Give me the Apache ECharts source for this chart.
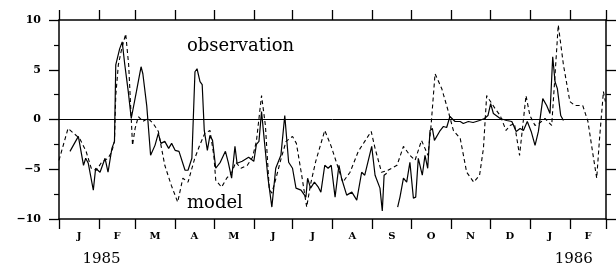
<!DOCTYPE html>
<html>
<head>
<meta charset="utf-8">
<script src="https://cdn.jsdelivr.net/npm/echarts@6/dist/echarts.min.js"></script>
<style>html,body{margin:0;padding:0;background:#fff}#c{width:616px;height:269px}</style>
</head>
<body>
<div id="c"></div>
<script>
// x values are days since 1 Jan 1985
const monthLetters = ['J','F','M','A','M','J','J','A','S','O','N','D','J','F'];
const monthStartDays = [0,31,59,90,120,151,181,212,243,273,304,334,365,396,424];
const yearLabels = ['1985','1986'];
const yearCenterDays = [33,399];
const yTickValues = [-10,-5,0,5,10];

const obsDays = [8.5,15,19,20.7,22.7,26.6,28.4,31.8,35.7,38,41,43,44,47,49,51,53.7,56,60,63.6,65,68,71,74.4,77,79,82,85,87.3,90,93,97.7,100,103,105.4,107,109.3,111,112.6,115,117,119,121.5,125,129,131.2,133.8,136.4,138,142,147,151,153,155,157,159,162,165,168,172,175,178,181,183.7,187.6,191.4,192.7,195,198,201,203,206,208.6,211,214,217,219,223,227,230.8,234.6,237,242.4,245,248.8,250.6,252,254,258,262.5,264.3,267,269.5,272,274.7,276.5,278.5,281.6,283.7,285.8,287.6,289.4,291,295,298,300.5,303,307,311,313.4,317.3,321,326,329.8,332.5,334.6,336.7,342,347,351,354.4,357.4,360,363,366,369,371.6,375,378,380.6,382.7,384.5,386.3,388.9,391];
const obsValues = [-3.2,-1.7,-4.6,-3.9,-4.4,-7.1,-4.9,-5.3,-3.9,-5.3,-2.9,-2.2,5.5,7.1,7.8,5.5,2.8,0.1,2.8,5.3,4.6,1.4,-3.6,-2.6,-1.4,-2.4,-2.2,-2.9,-2.4,-3.1,-3.2,-5.1,-5.1,-3.9,4.8,5.1,3.8,3.5,-1.1,-3.1,-1.6,-2.1,-4.9,-4.3,-3.2,-4.3,-5.9,-2.7,-4.4,-4.2,-3.8,-4.2,-2.5,-2.2,0.8,-1.9,-5.9,-8.8,-4.9,-3.6,0.4,-4.3,-4.9,-6.9,-7.1,-7.8,-5.9,-6.9,-6.3,-6.8,-7.3,-4.6,-4.9,-4.6,-7.8,-4.6,-5.9,-7.6,-7.3,-8.1,-5.3,-5.6,-2.7,-5.6,-6.9,-9.2,-5.6,-5.4,null,-8.8,-7.8,-5.9,-6.3,-4.3,-7.9,-7.8,-3.9,-5.6,-3.6,-4.9,-1.1,-0.9,-2.1,-1.2,-0.7,-0.8,0.3,-0.2,-0.2,-0.4,-0.2,-0.3,-0.1,0.1,0.4,1.6,0.6,0.1,-0.1,-0.2,-1.2,-0.9,-1.1,-0.2,-1.2,-2.6,-1.2,2.1,1.4,0.6,6.3,3.8,3.1,0.4,-0.1];

const modelDays = [0,7,16,21,25,29,33,38,41,43,44,46,48.6,51.7,54,57,59,61.5,65,69,73,77,82,87,92,96,100,105,109,113,117,120,121.5,126,130,134,137,141,146,150,153,157,160,163,165,168,172,176,181,184,188,192,195,199,206,211,220,225.6,232,237,242,245,250,255,262,267,272,276,281,286,288.4,291.5,296.7,301.8,305.7,311,316,321.5,326,329,331.5,338,342,346.5,349.6,353,357,362,365,369,373,376.7,381.9,384,387,391,396,400,406,410,414,416.8,419,422,423.5];
const modelValues = [-4.1,-0.9,-1.9,-3.2,-4.9,-5.1,-4.3,-3.9,-3.2,-2.2,2.4,5.5,7.1,8.6,5.5,-2.6,-0.9,0.3,-0.2,0.1,-0.4,-1.2,-4.6,-6.6,-8.3,-5.9,-6.3,-4.0,-2.6,-1.4,-1.1,-3.6,-6.1,-6.8,-5.9,-5.3,-4.3,-4.9,-4.6,-3.8,-2.2,2.4,-0.6,-7.0,-7.4,-6.0,-4.0,-2.2,-1.7,-2.4,-5.5,-8.8,-6.5,-4.2,-1.1,-2.7,-6.3,-5.3,-3.2,-2.2,-1.2,-2.9,-5.3,-5.1,-4.6,-2.7,-3.6,-4.1,-2.1,-3.6,-0.6,4.6,3.1,0.8,-1.1,-1.9,-5.3,-6.3,-5.6,-2.9,2.4,1.1,0.4,-1.1,-0.6,-0.4,-3.6,2.4,0.4,-0.6,-0.3,0.1,-0.6,3.5,9.5,5.5,1.8,1.4,1.4,-0.2,-3.6,-5.9,-1.9,2.8,1.8];

const monthCenters = monthLetters.map((m,i)=> (monthStartDays[i]+monthStartDays[i+1])/2);
const zip = (xs, ys) => xs.map((x,i)=>[x, ys[i]===null ? '-' : ys[i]]);

const FONT = 'DejaVu Serif';
const axisLine = {show:true, onZero:false, lineStyle:{color:'#000', width:1.5}};

const chart = echarts.init(document.getElementById('c'), null, {renderer:'canvas'});
chart.setOption({
  animation:false,
  backgroundColor:'#fff',
  grid:{left:59, right:10, top:20, bottom:50, containLabel:false},
  xAxis:[
    {type:'value', min:0, max:424, position:'bottom', axisLine:axisLine,
     axisTick:{show:true, length:10, customValues:monthStartDays, lineStyle:{color:'#000', width:1.3}},
     axisLabel:{show:true, customValues:monthCenters, margin:12,
       formatter:v=>{const i=monthCenters.findIndex(c=>Math.abs(c-v)<0.01); return i>=0?monthLetters[i]:'';},
       fontFamily:FONT, fontWeight:'bold', fontSize:10, color:'#000'},
     splitLine:{show:false}},
    {type:'value', min:0, max:424, position:'top', axisLine:axisLine,
     axisTick:{show:true, length:10, customValues:monthStartDays, lineStyle:{color:'#000', width:1.3}},
     axisLabel:{show:false}, splitLine:{show:false}},
    {type:'value', min:0, max:424, position:'bottom', axisLine:{show:false, onZero:false}, axisTick:{show:false},
     axisLabel:{show:true, customValues:yearCenterDays, margin:33,
       formatter:v=>{const i=yearCenterDays.indexOf(v); return i>=0?yearLabels[i]:'';},
       fontFamily:FONT, fontSize:15, color:'#000'},
     splitLine:{show:false}}
  ],
  yAxis:[
    {type:'value', min:-10, max:10, interval:5, position:'left', axisLine:axisLine,
     axisTick:{show:true, length:10, lineStyle:{color:'#000', width:1.3}},
     minorTick:{show:true, splitNumber:2, length:5, lineStyle:{color:'#000', width:1.2}},
     axisLabel:{margin:18, fontFamily:FONT, fontWeight:'bold', fontSize:11, color:'#000',
       formatter:v=> yTickValues.includes(v) ? String(v).replace('-', '\u2212') : ''},
     splitLine:{show:false}},
    {type:'value', min:-10, max:10, interval:5, position:'right', axisLine:axisLine,
     axisTick:{show:true, length:10, lineStyle:{color:'#000', width:1.3}},
     minorTick:{show:true, splitNumber:2, length:5, lineStyle:{color:'#000', width:1.2}},
     axisLabel:{show:false}, splitLine:{show:false}}
  ],
  series:[
    {name:'model', type:'line', xAxisIndex:0, yAxisIndex:0, data:zip(modelDays, modelValues),
     symbol:'none', lineStyle:{color:'#000', width:1.1, type:[4,3]},
     markLine:{silent:true, symbol:'none', label:{show:false},
       lineStyle:{color:'#000', width:1, type:'solid'}, data:[{yAxis:0}]}},
    {name:'observation', type:'line', xAxisIndex:0, yAxisIndex:0, data:zip(obsDays, obsValues),
     symbol:'none', connectNulls:false, lineStyle:{color:'#000', width:1.2, type:'solid'}}
  ],
  graphic:[
    {type:'text', left:187, top:37, style:{text:'observation', fontFamily:FONT, fontSize:18, fill:'#000'}},
    {type:'text', left:187, top:194, style:{text:'model', fontFamily:FONT, fontSize:18, fill:'#000'}}
  ]
});
</script>
</body>
</html>
